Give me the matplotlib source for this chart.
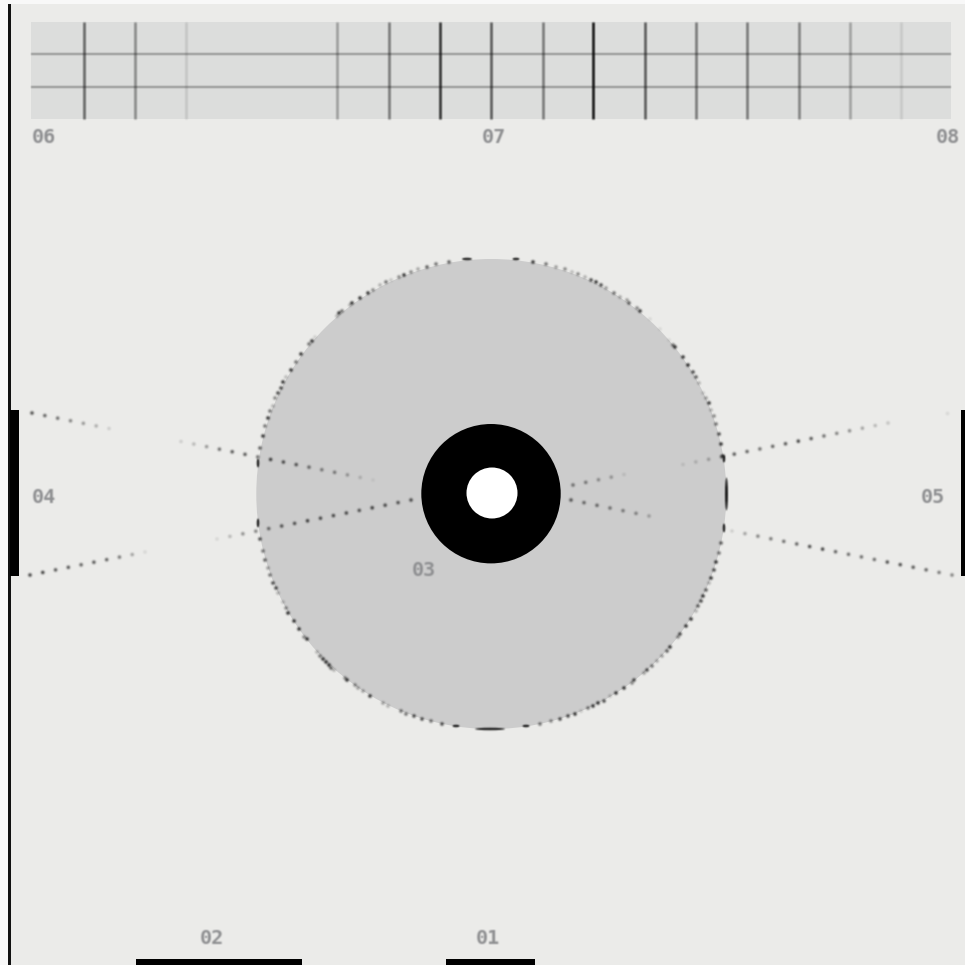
import matplotlib
matplotlib.use('Agg')
import matplotlib.pyplot as plt
from matplotlib.patches import Circle, Ellipse, Rectangle
import numpy as np

# top strip gridlines, x position and strength
strip_x = [83.5, 135, 186, 337, 388.5, 439.5, 491, 542.5, 593, 645, 696, 747, 798.5, 850, 901]
strip_a = [.6, .42, .12, .32, .5, .85, .65, .5, 1.0, .65, .5, .5, .45, .3, .1]
strip_y = [53.5, 87]

labels = ['01', '02', '03', '04', '05', '06', '07', '08']
label_x = [487.5, 212, 423.5, 43.5, 933, 43.5, 493.5, 947.5]
label_y = [938.5, 938.5, 570.5, 497.5, 497.5, 137.5, 137.5, 137.5]

# beam dots: first point, last point, strength of every dot
beams = [
    (32, 413, 109, 428.5, [.75, .65, .6, .5, .4, .3, .15]),
    (181, 441.5, 373, 480, [.15, .25, .4, .6, .7, .7, .6, .8, .75, .7, .6, .5, .5, .35, .2, .08]),
    (30, 575, 145, 552, [.8, .8, .7, .7, .65, .7, .65, .55, .35, .1]),
    (217, 539, 411, 500, [.1, .25, .45, .5, .6, .7, .7, .8, .75, .75, .75, .7, .8, .75, .7, .75]),
    (573, 485, 624, 474.5, [.55, .5, .4, .35, .12]),
    (683, 464.5, 888, 423, [.12, .2, .3, .55, .7, .65, .6, .65, .7, .8, .7, .6, .5, .45, .35, .25, .2]),
    (571, 500, 649, 516, [.7, .6, .6, .55, .5, .45, .3]),
    (732, 531, 952, 575, [.15, .35, .5, .55, .6, .65, .75, .8, .65, .6, .6, .6, .75, .75, .7, .65, .55, .5]),
    (947, 413, 947, 413, [.1]),
]

# dots round the disc edge
rim_x = [533, 546, 556, 565, 572, 578, 585, 591, 596, 601, 606, 614, 620, 627, 629, 637, 640, 650, 660, 669,
         673, 675, 683, 688, 693, 696, 699, 703, 706, 709, 711, 714, 716, 719, 721, 723,
         449, 436, 427, 418, 411, 404, 399, 391, 386, 380, 373, 368, 360, 352, 350, 342, 339, 337, 315, 312,
         309, 301, 296, 291, 286, 283, 281, 278, 275, 273, 270, 268, 265, 263, 260,
         260, 263, 265, 268, 270, 273, 276, 278, 283, 286, 288, 294, 299, 304, 307, 317, 320, 323, 326, 329,
         331, 334, 345, 347, 355, 358, 363, 370, 383, 388, 401, 406, 414, 422, 431, 442,
         540, 551, 560, 568, 575, 581, 588, 593, 598, 604, 610, 616, 624, 632, 634, 644, 647, 652, 657, 662,
         667, 670, 678, 680, 686, 691, 696, 698, 701, 703, 706, 709, 711, 714, 716, 719, 721]
rim_y = [262, 264, 267, 269, 272, 274, 277, 280, 282, 285, 288, 293, 297, 300, 303, 308, 311, 319, 329, 340,
         345, 347, 357, 365, 372, 377, 383, 393, 398, 403, 410, 416, 424, 434, 444, 456,
         262, 264, 267, 269, 272, 275, 277, 280, 282, 285, 290, 293, 298, 303, 305, 311, 313, 316, 337, 341,
         344, 354, 362, 370, 377, 382, 388, 393, 398, 406, 411, 418, 426, 436, 448,
         539, 551, 560, 568, 575, 583, 588, 593, 602, 608, 613, 621, 629, 637, 639, 652, 656, 659, 662, 665,
         668, 670, 678, 680, 685, 688, 691, 696, 703, 706, 711, 714, 716, 719, 721, 724,
         724, 721, 719, 716, 714, 711, 708, 706, 703, 701, 696, 693, 688, 683, 680, 673, 670, 666, 661, 656,
         651, 647, 637, 634, 626, 619, 611, 606, 601, 596, 590, 583, 578, 570, 562, 553, 543]
rim_a = [.9, .6, .4, .5, .25, .5, .3, .8, .9, .8, .4, .6, .35, .4, .7, .5, .9, .1, .1, .1,
         .6, .9, .9, .95, .8, .7, .3, .2, .4, .9, .3, .5, .6, .8, .9, .9,
         .7, .6, .7, .35, .5, .9, .5, .2, .6, .3, .5, .9, .9, .9, .3, .6, .9, .3, .15, .9,
         .6, .9, .6, .9, .25, .9, .8, .8, .5, .3, .6, .9, .6, .9, .7,
         .8, .6, .7, .4, .6, .8, .8, .3, .25, .5, .95, .9, .9, .5, .9, .3, .6, .9, .95, .95,
         .7, .3, .5, .9, .5, .4, .4, .9, .4, .3, .6, .6, .8, .8, .6, .8,
         .6, .5, .8, .8, .9, .2, .6, .9, .9, .8, .25, .9, .9, .5, .8, .4, .8, .6, .35, .4,
         .7, .9, .5, .8, .9, .9, .3, .7, .8, .9, .7, .3, .9, .8, .9, .6, .7]

# stretched dashes where the edge runs along a pixel row or column
dash_x = [467, 516, 526, 456, 490, 258, 258, 724, 724, 726.5]
dash_y = [259, 259, 726, 726, 729, 463, 523, 459, 528, 494]
dash_w = [10, 7, 7, 7, 30, 2.5, 2.5, 2.5, 2.5, 3]
dash_h = [2.5, 2.5, 2.5, 2.5, 2.5, 9, 9, 7, 9, 33]


def rgba(a):
    return (0, 0, 0, a)


def soften(img, dpi):
    # the source is a scaled up bitmap, so take the edge off everything
    pad = 3
    out = np.pad(img, ((pad, pad), (pad, pad), (0, 0)))
    out[:, :, :3] = out[:, :, :3] * out[:, :, 3:]
    for axis in (0, 1):
        out = (np.roll(out, 1, axis) + 2 * out + np.roll(out, -1, axis)) / 4
    a = np.clip(out[:, :, 3:], 1e-4, 1)
    out[:, :, :3] = np.clip(out[:, :, :3] / a, 0, 1)
    return out, -pad, -pad


fig = plt.figure(figsize=(9.65, 9.65), dpi=100, facecolor='#f8f8f8')
ax = fig.add_axes([0, 0, 1, 1])
ax.set_xlim(0, 965)
ax.set_ylim(965, 0)
ax.axis('off')

ax.add_patch(Rectangle((10, 4), 955, 961, fc='#ebebe9', ec='none', zorder=0))
ax.add_patch(Rectangle((31, 22), 920, 97, fc='#dcdddc', ec='none', zorder=1))

hl = ax.hlines(strip_y, 31, 951, colors=[(.15, .15, .15, .38)], lw=1.5, zorder=2)
vl = ax.vlines(strip_x, 22, 119, colors=[rgba(a * .85) for a in strip_a], lw=2, zorder=3)
hl.set_agg_filter(soften)
vl.set_agg_filter(soften)

# left rule and the black bars
ax.add_patch(Rectangle((8, 4), 2.5, 961, fc='#111111', ec='none', zorder=3))
ax.add_patch(Rectangle((10, 410), 9, 166, fc='black', ec='none', zorder=3))
ax.add_patch(Rectangle((961, 410), 4, 166, fc='black', ec='none', zorder=3))
ax.add_patch(Rectangle((136, 959), 166, 6, fc='black', ec='none', zorder=3))
ax.add_patch(Rectangle((446, 959), 89, 6, fc='black', ec='none', zorder=3))

# disc
ax.add_patch(Circle((491.3, 494), 235, fc='#cccccc', ec='none', zorder=2))
ax.add_patch(Circle((491, 493.7), 69.7, fc='black', ec='none', zorder=5))
ax.add_patch(Circle((492, 493), 25.5, fc='white', ec='none', zorder=6))

for x0, y0, x1, y1, a in beams:
    xs = np.linspace(x0, x1, len(a))
    ys = np.linspace(y0, y1, len(a))
    dots = ax.scatter(xs, ys, s=6, c=[rgba(v) for v in a], linewidths=0, zorder=4)
    dots.set_agg_filter(soften)

rim = ax.scatter(rim_x, rim_y, s=6, c=[rgba(v) for v in rim_a], linewidths=0, zorder=4)
rim.set_agg_filter(soften)
for x, y, w, h in zip(dash_x, dash_y, dash_w, dash_h):
    e = Ellipse((x, y), w, h, fc=(0, 0, 0, .85), ec='none', zorder=4)
    e.set_agg_filter(soften)
    ax.add_patch(e)

for s, x, y in zip(labels, label_x, label_y):
    t = ax.text(x, y, s, ha='center', va='center', fontsize=14.5, fontweight='bold',
                family='DejaVu Sans Mono', color='#8f9092', zorder=7)
    t.set_agg_filter(soften)

plt.savefig('out.png', dpi=100, facecolor=fig.get_facecolor())
